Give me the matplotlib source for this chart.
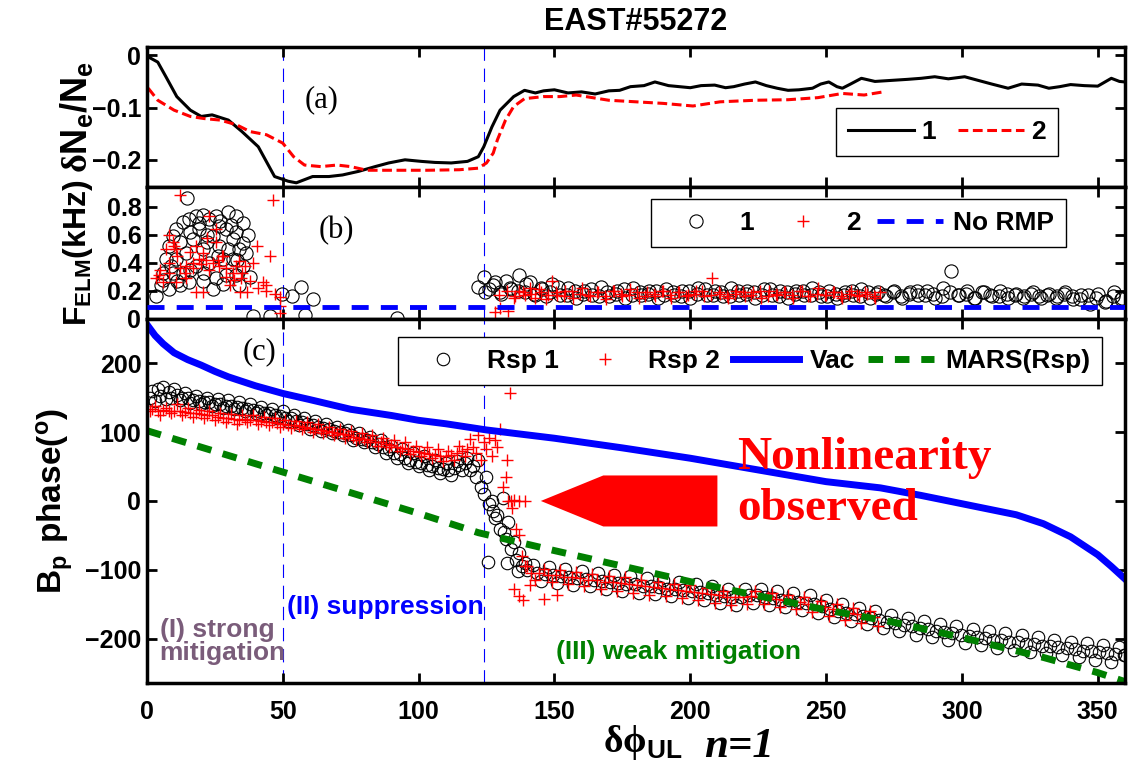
import numpy as np
import matplotlib
matplotlib.use('Agg')
import matplotlib.pyplot as plt
from matplotlib.patches import FancyArrow

plt.rcParams['font.family'] = ['Liberation Sans', 'DejaVu Sans']
plt.rcParams['font.weight'] = 'bold'
plt.rcParams['mathtext.fontset'] = 'custom'
plt.rcParams['mathtext.rm'] = 'Liberation Serif'
plt.rcParams['mathtext.bf'] = 'Liberation Sans:bold'

# ---------------- panel (a): density change ----------------
xa1 = [0.5, 4, 7, 11, 16, 20, 24, 30, 35, 41, 45, 47, 52, 55, 61, 67, 72, 78, 84, 89, 95, 101,
       106, 112, 118, 122, 124, 127, 130, 135, 139, 143, 146, 150, 155, 160, 165, 170, 174, 178,
       183, 187, 192, 196, 200, 204, 209, 213, 216, 220, 224, 228, 232, 236, 240, 245, 248, 251,
       254, 256, 259, 263, 268, 274, 280, 285, 290, 295, 301, 306, 311, 317, 322, 328, 332, 336,
       340, 345, 350, 353, 355, 358, 360]
ya1 = [-0.003, -0.013, -0.041, -0.079, -0.105, -0.117, -0.114, -0.124, -0.146, -0.175, -0.213,
       -0.232, -0.241, -0.244, -0.232, -0.232, -0.229, -0.222, -0.213, -0.206, -0.200, -0.203,
       -0.205, -0.206, -0.203, -0.194, -0.175, -0.137, -0.105, -0.079, -0.067, -0.072, -0.068,
       -0.066, -0.072, -0.070, -0.074, -0.068, -0.067, -0.060, -0.058, -0.051, -0.058, -0.060,
       -0.062, -0.058, -0.057, -0.062, -0.060, -0.055, -0.051, -0.058, -0.063, -0.067, -0.066,
       -0.063, -0.055, -0.051, -0.060, -0.063, -0.055, -0.044, -0.050, -0.048, -0.046, -0.044,
       -0.041, -0.045, -0.041, -0.048, -0.055, -0.063, -0.055, -0.057, -0.063, -0.060, -0.056,
       -0.058, -0.059, -0.050, -0.044, -0.050, -0.051]
xa2 = [0.5, 4, 10, 16, 21, 27, 33, 38, 44, 50, 54, 58, 64, 70, 75, 81, 86, 95, 103, 115, 122,
       125, 127.5, 129, 132, 135, 139, 146, 152, 158, 170, 190, 201, 211, 224, 236, 247, 256, 264, 271]
ya2 = [-0.063, -0.086, -0.105, -0.117, -0.121, -0.124, -0.133, -0.146, -0.152, -0.168, -0.194,
       -0.210, -0.213, -0.210, -0.213, -0.220, -0.220, -0.220, -0.220, -0.219, -0.216, -0.206,
       -0.187, -0.162, -0.124, -0.098, -0.083, -0.079, -0.079, -0.076, -0.086, -0.092, -0.097,
       -0.089, -0.086, -0.085, -0.081, -0.073, -0.076, -0.070]

# ---------------- panel (b): ELM frequency ----------------
xb1 = [14.6, 3.4, 5.2, 5.8, 7, 8.3, 9.5, 10.7, 13.2, 15.6, 18, 20.5, 23, 25.4, 29.7, 32.8, 35.3,
       37.1, 35.3, 36.5, 35.3, 32.8, 8.3, 12, 15.6, 20.5, 25.4, 29, 13.2, 18, 23, 28, 14.4, 20.5,
       26.6, 31.6, 17, 24.2, 29, 19.3, 26.6, 32.8, 10.7, 9.5, 31.6, 34, 24.2,
       6, 9, 12, 16, 19, 22, 27, 31, 34, 38, 11, 21, 26, 30, 33, 16, 22, 28,
       49.6, 56.7, 61, 53.3, 39, 45.4, 58.2, 92,
       122, 124, 126, 128, 130, 132, 134, 137, 139, 141, 143, 145, 147, 149, 152, 155, 158, 161,
       164, 167, 170, 173, 176, 179, 182, 185, 188, 191, 194, 197, 200, 203, 206, 209, 212, 215,
       218, 221, 224, 227, 230, 233, 236, 239, 242, 245, 248, 251, 254, 257, 260, 263, 266, 269,
       272, 275, 278, 281, 284, 287, 290, 293, 296, 299, 302, 305, 308, 311, 314, 317, 320, 323,
       326, 329, 332, 335, 338, 341, 344, 347, 350, 353, 356, 359]
yb1 = [0.86, 0.16, 0.24, 0.33, 0.43, 0.52, 0.59, 0.64, 0.69, 0.71, 0.73, 0.74, 0.71, 0.73, 0.76,
       0.73, 0.68, 0.60, 0.54, 0.47, 0.38, 0.31, 0.21, 0.24, 0.26, 0.27, 0.29, 0.31, 0.33, 0.38,
       0.40, 0.43, 0.47, 0.50, 0.52, 0.57, 0.57, 0.59, 0.64, 0.64, 0.66, 0.62, 0.43, 0.33, 0.43,
       0.24, 0.21,
       0.28, 0.38, 0.55, 0.62, 0.68, 0.60, 0.70, 0.67, 0.50, 0.30, 0.27, 0.33, 0.45, 0.50, 0.42,
       0.35, 0.55, 0.25,
       0.18, 0.225, 0.145, 0.16, 0.02, 0.02, 0.03, 0.01,
       0.23, 0.30, 0.21, 0.26, 0.19, 0.27, 0.21, 0.31, 0.19, 0.26, 0.17, 0.22, 0.16, 0.25, 0.17,
       0.22, 0.15, 0.20, 0.17, 0.23, 0.16, 0.20, 0.15, 0.22, 0.17, 0.20, 0.15, 0.21, 0.17, 0.20,
       0.15, 0.22, 0.17, 0.20, 0.16, 0.22, 0.17, 0.20, 0.15, 0.21, 0.17, 0.20, 0.15, 0.20, 0.17,
       0.22, 0.16, 0.20, 0.15, 0.19, 0.17, 0.21, 0.15, 0.19, 0.16, 0.20, 0.15, 0.19, 0.17, 0.20,
       0.15, 0.22, 0.34, 0.17, 0.20, 0.15, 0.19, 0.16, 0.20, 0.15, 0.18, 0.16, 0.19, 0.15, 0.18,
       0.16, 0.19, 0.14, 0.17, 0.11, 0.18, 0.13, 0.19, 0.15]
# second row of the dense band in region III (scan positions between the first row)
xb1_band = np.arange(124.5, 359, 3)
yb1_band = [0.19, 0.24, 0.18, 0.22, 0.20, 0.25, 0.18, 0.21, 0.19, 0.23,
            0.17, 0.20, 0.18, 0.21, 0.16, 0.19, 0.18, 0.21, 0.17, 0.19,
            0.18, 0.20, 0.17, 0.19, 0.16, 0.20, 0.18, 0.21, 0.17, 0.19,
            0.16, 0.20, 0.18, 0.19, 0.17, 0.21, 0.16, 0.19, 0.18, 0.20,
            0.17, 0.19, 0.16, 0.18, 0.17, 0.20, 0.16, 0.19, 0.18, 0.17,
            0.19, 0.16, 0.18, 0.20, 0.17, 0.18, 0.16, 0.19, 0.17, 0.18,
            0.15, 0.19, 0.17, 0.16, 0.18, 0.17, 0.15, 0.18, 0.16, 0.17,
            0.15, 0.18, 0.16, 0.14, 0.17, 0.15, 0.12, 0.16, 0.14]
xb2 = [12, 46.5, 23, 25.4, 8.3, 9.5, 7, 10.7, 25.4, 18, 40.5, 45.4, 39.2, 42.9, 44, 36.7, 34.3,
       30.6, 20.5, 18, 3.4, 4.6, 5.8, 8.3, 12, 14.4, 17, 19.3, 21.8, 24.2, 26.6, 29, 31.6, 32.8,
       27.8, 20.5, 14.4, 10.7, 34.7, 36, 49, 49, 49,
       5, 8, 11, 14, 17, 20, 23, 26, 29, 32, 35, 38, 41, 44, 47, 10, 16, 22, 28, 34,
       128, 130, 133, 135, 137, 139, 141, 143, 145, 147, 149, 151, 154, 157, 160, 163, 166, 169,
       172, 175, 178, 181, 184, 187, 190, 193, 196, 199, 202, 205, 208, 211, 214, 217, 220, 223,
       226, 229, 232, 235, 238, 241, 244, 247, 250, 253, 256, 259, 262, 265, 268, 270]
yb2 = [0.88, 0.85, 0.73, 0.64, 0.60, 0.55, 0.50, 0.50, 0.55, 0.52, 0.52, 0.45, 0.40, 0.26, 0.24,
       0.19, 0.19, 0.24, 0.19, 0.19, 0.29, 0.31, 0.26, 0.33, 0.36, 0.38, 0.40, 0.43, 0.42, 0.40,
       0.38, 0.36, 0.33, 0.38, 0.45, 0.47, 0.29, 0.26, 0.29, 0.38, 0.155, 0.09, 0.04,
       0.35, 0.40, 0.45, 0.33, 0.36, 0.39, 0.35, 0.42, 0.30, 0.28, 0.33, 0.27, 0.22, 0.20, 0.18,
       0.52, 0.48, 0.58, 0.45, 0.41,
       0.05, 0.08, 0.06, 0.15, 0.20, 0.17, 0.22, 0.15, 0.19, 0.14, 0.27, 0.17, 0.20, 0.15, 0.22,
       0.16, 0.19, 0.14, 0.20, 0.16, 0.21, 0.15, 0.19, 0.16, 0.20, 0.15, 0.19, 0.17, 0.20, 0.16,
       0.29, 0.18, 0.15, 0.20, 0.16, 0.19, 0.15, 0.20, 0.17, 0.19, 0.15, 0.20, 0.16, 0.22, 0.17,
       0.19, 0.15, 0.20, 0.16, 0.18, 0.15, 0.19]
xb2_band = np.arange(129.5, 269, 3)
yb2_band = [0.17, 0.20, 0.16, 0.19, 0.18, 0.21, 0.17, 0.19, 0.16, 0.20,
            0.18, 0.17, 0.19, 0.16, 0.20, 0.18, 0.17, 0.19, 0.16, 0.18,
            0.20, 0.17, 0.19, 0.16, 0.18, 0.20, 0.17, 0.19, 0.16, 0.18,
            0.19, 0.17, 0.20, 0.16, 0.18, 0.19, 0.17, 0.20, 0.16, 0.18,
            0.17, 0.19, 0.16, 0.18, 0.17, 0.19, 0.16]
no_rmp = 0.085

# ---------------- panel (c): Bp phase ----------------
xc1 = [1, 2, 3, 4, 5, 6, 7, 8, 9, 10, 12, 14, 16, 18, 20, 22, 24, 26, 28, 30, 32, 34, 36, 38, 40,
       42, 44, 46, 48, 50, 52, 54, 56, 58, 60, 62, 64, 66, 68, 70, 72, 74, 76, 78, 80, 82, 84, 86,
       88, 90, 92, 94, 96, 98, 100, 102, 104, 106, 108, 110, 112, 114, 116, 118, 120,
       121, 122, 123, 124, 125, 126, 127, 127.5, 128, 129, 130, 131, 131.5, 132, 133, 134, 135,
       136, 137, 138, 125.5, 132.5, 136.5, 139, 140,
       142, 145, 148, 151, 154, 157, 160, 163, 166, 169, 172, 175, 178, 181, 184, 187, 190, 193,
       196, 199, 202, 205, 208, 211, 214, 217, 220, 223, 226, 229, 232, 235, 238, 241, 244, 247,
       250, 253, 256, 259, 262, 265, 268, 271, 274, 277, 280, 283, 286, 289, 292, 295, 298, 301,
       304, 307, 310, 313, 316, 319, 322, 325, 328, 331, 334, 337, 340, 343, 346, 349, 352, 355,
       358, 360]
yc1 = [150, 160, 145, 162, 152, 165, 148, 158, 150, 162, 147, 157, 142, 152, 140, 150, 138, 148,
       135, 146, 133, 143, 130, 140, 128, 137, 124, 133, 120, 130, 116, 125, 110, 120, 105, 116,
       102, 112, 98, 108, 95, 103, 88, 98, 85, 93, 78, 88, 70, 80, 62, 75, 55, 70, 50, 65, 45, 60,
       40, 55, 38, 58, 45, 62, 50,
       35, 60, 20, 10, 35, -5, 0, -15, -25, -20, -40, 5, -45, -55, -30, -70, -60, -85, -75, -95,
       -88, -90, -102, -90, -100,
       -93, -116, -96, -119, -98, -122, -101, -124, -104, -127,
       -107, -130, -109, -133, -112, -135, -115, -138, -117, -141,
       -120, -143, -123, -148, -128, -151, -127, -148, -127, -151,
       -131, -154, -134, -158, -137, -163, -144, -169, -149, -174,
       -155, -179, -160, -184, -165, -189, -170, -194, -174, -198,
       -178, -202, -182, -206, -186, -209, -189, -213, -192, -216,
       -195, -219, -198, -221, -201, -224, -204, -227, -206, -230,
       -209, -233, -212, -224]
xc1_band = list(np.arange(11, 120, 2)) + list(np.arange(143.5, 360, 3))
yc1_band = [154, 150, 149, 146, 145, 144, 143, 141, 140, 138, 138, 136, 135, 134, 132, 131, 128,
            127, 125, 123, 121, 120, 116, 114, 112, 110, 107, 106, 104, 102, 100, 98, 95, 92, 90,
            88, 85, 82, 78, 75, 70, 68, 63, 60, 57, 55, 52, 50, 48, 46, 45, 48, 52, 55, 45,
            -104, -106, -108, -109, -110, -112, -113, -114, -116, -117,
            -119, -120, -121, -123, -124, -125, -127, -128, -129, -131,
            -132, -133, -136, -138, -140, -139, -137, -137, -139, -141,
            -143, -144, -146, -148, -150, -153, -157, -159, -162, -164,
            -167, -170, -172, -175, -177, -180, -182, -184, -186, -188,
            -190, -192, -194, -196, -197, -199, -201, -202, -204, -205,
            -207, -208, -210, -211, -212, -214, -215, -217, -218, -219,
            -221, -222, -223]
xc2 = [1, 3, 5, 7, 9, 11, 13, 15, 17, 19, 21, 23, 25, 27, 29, 31, 33, 35, 37, 39, 41, 43, 45, 47,
       49, 51, 53, 55, 57, 59, 61, 63, 65, 67, 69, 71, 73, 75, 77, 79, 81, 83, 85, 87, 89, 91, 93,
       95, 97, 99, 101, 103, 105, 107, 109, 111, 113, 115, 117, 119, 121, 122, 123, 124, 125, 126,
       127, 128, 129,
       130, 131, 132, 133, 134, 135, 137, 139, 132.5, 133.5, 134.5, 136, 137, 138, 139, 135, 137,
       138.5, 141, 146, 151,
       140, 143, 146, 149, 152, 155, 158, 161, 164, 167, 170, 173, 176, 179, 182, 185, 188, 191,
       194, 197, 200, 203, 206, 209, 212, 215, 218, 221, 224, 227, 230, 233, 236, 239, 242, 245,
       248, 251, 254, 257, 260, 263, 266, 269]
yc2 = [130, 138, 125, 135, 128, 140, 125, 135, 122, 132, 120, 130, 118, 128, 115, 126, 112, 124,
       114, 125, 112, 122, 110, 120, 108, 118, 106, 116, 104, 114, 100, 112, 98, 108, 95, 105, 92,
       102, 88, 98, 85, 95, 80, 92, 78, 88, 72, 85, 68, 80, 65, 78, 62, 75, 58, 72, 60, 80, 65, 90,
       70, 95, 60, 85, 75, 92, 65, 88, 78,
       105, 20, 35, 0, 0, 2, 0, 0, 60, 156, -10, -40, -50, -80, -95, -128, -138, -143, -122, -142,
       -136,
       -95, -115, -98, -118, -100, -121, -103, -124, -106, -127,
       -109, -130, -111, -133, -114, -136, -117, -138, -120, -141,
       -122, -144, -126, -148, -130, -151, -131, -149, -130, -150,
       -133, -154, -136, -157, -140, -161, -145, -167, -150, -172,
       -155, -177, -160, -182]
xc2_band = list(np.arange(2, 121, 2)) + list(np.arange(141.5, 269, 3))
yc2_band = [133, 130, 132, 131, 130, 131, 129, 128, 127, 126, 125, 124, 122, 121, 120, 119, 118,
            119, 118, 117, 116, 115, 114, 113, 112, 110, 110, 109, 108, 106, 105, 103, 102, 100,
            99, 97, 96, 93, 92, 90, 88, 86, 85, 83, 81, 79, 77, 75, 73, 71, 70, 68, 67, 65, 65,
            66, 70, 72, 75, 78,
            -104, -105, -107, -108, -110, -111, -112, -114, -115, -117,
            -118, -119, -121, -122, -124, -125, -126, -128, -129, -131,
            -132, -133, -135, -137, -139, -140, -139, -138, -139, -140,
            -142, -144, -145, -147, -149, -152, -154, -157, -159, -162,
            -164, -167, -169]
x_vac = [0, 3, 6, 10, 15, 20, 25, 30, 40, 50, 60, 75, 90, 100, 110, 125, 150, 175, 200, 225,
         250, 270, 285, 300, 320, 330, 340, 350, 355, 360]
y_vac = [256, 240, 228, 215, 205, 197, 188, 180, 167, 156, 147, 133, 124, 117, 112, 103, 91, 77,
         62, 45, 28, 19, 8, -4, -20, -33, -52, -78, -95, -113]
x_mars = [0, 25, 50, 75, 100, 122, 150, 200, 250, 275, 300, 330, 350, 360]
y_mars = [102, 72, 42, 12, -18, -46, -72, -117, -158, -176, -198, -227, -249, -262]

region_edges = [50, 124]
xticks = [0, 50, 100, 150, 200, 250, 300, 350]

fig = plt.figure(figsize=(11.3, 7.66), dpi=100)
L, W = 0.130, 0.8655
ax_a = fig.add_axes([L, 0.7559, W, 0.1828])
ax_b = fig.add_axes([L, 0.5836, W, 0.1723])
ax_c = fig.add_axes([L, 0.1084, W, 0.4752])


def style(ax):
    ax.set_xlim(0, 360)
    ax.set_xticks(xticks)
    ax.tick_params(direction='in', length=7, width=2, top=True, right=True,
                   labelsize=18, pad=4)
    for s in ax.spines.values():
        s.set_linewidth(2.5)
    for xe in region_edges:
        ax.axvline(xe, color='blue', lw=0.8, ls=(0, (12, 7)), zorder=1)


def legend(ax, anchor, ncol, **kw):
    leg = ax.legend(loc='upper right', bbox_to_anchor=anchor, ncol=ncol, frameon=True,
                    fancybox=False, edgecolor='black', framealpha=1, fontsize=19,
                    borderaxespad=0, borderpad=0.45, **kw)
    leg.get_frame().set_linewidth(1.0)
    return leg


circ = dict(ls='none', marker='o', mfc='none', mec='black', mew=0.8)
plus = dict(ls='none', marker='+', mec='red', mew=1.0)

# panel (a)
style(ax_a)
ax_a.plot(xa1, ya1, color='black', lw=2.2, label='1')
ax_a.plot(xa2, ya2, color='red', lw=2.2, dashes=(3.2, 1.5), label='2')
ax_a.set_ylim(-0.252, 0.016)
ax_a.set_yticks([-0.2, -0.1, 0])
ax_a.set_yticklabels(['\u22120.2', '\u22120.1', '0'])
ax_a.tick_params(axis='x', labelbottom=False)
ax_a.set_ylabel(r'$\mathrm{δ}\mathbf{N_e/N_e}$', fontsize=26)
ax_a.yaxis.set_label_coords(-0.053, 0.5)
ax_a.text(0.179, 0.62, '(a)', transform=ax_a.transAxes, family='Liberation Serif',
          weight='normal', fontsize=22, ha='center', va='center')
legend(ax_a, (0.9315, 0.564), 2, handlelength=2.5, handletextpad=0.3, columnspacing=0.8)

# panel (b)
style(ax_b)
ax_b.plot(xb1, yb1, ms=9.5, label='1', **circ)
ax_b.plot(xb1_band, yb1_band, ms=9.5, **circ)
ax_b.plot(xb2, yb2, ms=9, label='2', **plus)
ax_b.plot(xb2_band, yb2_band, ms=9, **plus)
ax_b.axhline(no_rmp, color='blue', lw=3.5, dashes=(3.5, 2.5), label='No RMP', zorder=3)
ax_b.set_ylim(0, 0.94)
ax_b.set_yticks([0, 0.2, 0.4, 0.6, 0.8])
ax_b.set_yticklabels(['0', '0.2', '0.4', '0.6', '0.8'])
ax_b.tick_params(axis='x', labelbottom=False)
ax_b.set_ylabel(r'$\mathbf{F_{ELM}(kHz)}$', fontsize=23)
ax_b.yaxis.set_label_coords(-0.053, 0.5)
ax_b.text(0.194, 0.667, '(b)', transform=ax_b.transAxes, family='Liberation Serif',
          weight='normal', fontsize=22, ha='center', va='center')
legend(ax_b, (0.9397, 0.909), 3, handlelength=2.5, handletextpad=0.4, columnspacing=0.6)

# panel (c)
style(ax_c)
ax_c.plot(xc1, yc1, ms=9, label='Rsp 1', **circ)
ax_c.plot(xc1_band, yc1_band, ms=9, **circ)
ax_c.plot(xc2, yc2, ms=9, label='Rsp 2', **plus)
ax_c.plot(xc2_band, yc2_band, ms=9, **plus)
ax_c.plot(x_vac, y_vac, color='blue', lw=5, label='Vac')
ax_c.plot(x_mars, y_mars, color='green', lw=5, dashes=(2.1, 1.7), label='MARS(Rsp)')
ax_c.set_ylim(-264, 264)
ax_c.set_yticks([-200, -100, 0, 100, 200])
ax_c.set_yticklabels(['\u2212200', '\u2212100', '0', '100', '200'])
ax_c.tick_params(axis='x', pad=12)
ax_c.set_ylabel(r'$\mathbf{B_p\ phase(^o)}$', fontsize=24)
ax_c.yaxis.set_label_coords(-0.074, 0.5)
ax_c.text(0.1155, 0.909, '(c)', transform=ax_c.transAxes, family='Liberation Serif',
          weight='normal', fontsize=22, ha='center', va='center')
legend(ax_c, (0.9765, 0.9505), 4, handlelength=2.5, handletextpad=0.4, columnspacing=0.5)

ax_c.add_patch(FancyArrow(210, 0, -65, 0, width=74, head_width=74, head_length=23,
                          length_includes_head=True, color='red', lw=0, zorder=5))
ax_c.text(0.604, 0.676, 'Nonlinearity\nobserved', transform=ax_c.transAxes,
          family='Liberation Serif', weight='bold', fontsize=34, color='red',
          ha='left', va='top', linespacing=1.3)
ax_c.text(0.013, 0.115, '(I) strong\nmitigation', transform=ax_c.transAxes, fontsize=19,
          color='#7A5C7A', ha='left', va='center', linespacing=0.95)
ax_c.text(0.143, 0.209, '(II) suppression', transform=ax_c.transAxes, fontsize=19,
          color='blue', ha='left', va='center')
ax_c.text(0.418, 0.085, '(III) weak mitigation', transform=ax_c.transAxes, fontsize=19,
          color='green', ha='left', va='center')

fig.text(0.5628, 0.971, 'EAST#55272', fontsize=22, ha='center', va='center')
fig.text(603 / 1130, 0.018, r'$\mathrm{δϕ}_{\mathbf{UL}}$', fontsize=27,
         ha='left', va='baseline')
fig.text(704 / 1130, 0.012, 'n=1', family='Liberation Serif', style='italic',
         weight='bold', fontsize=31, ha='left', va='baseline')

fig.savefig('out.png', dpi=100)
